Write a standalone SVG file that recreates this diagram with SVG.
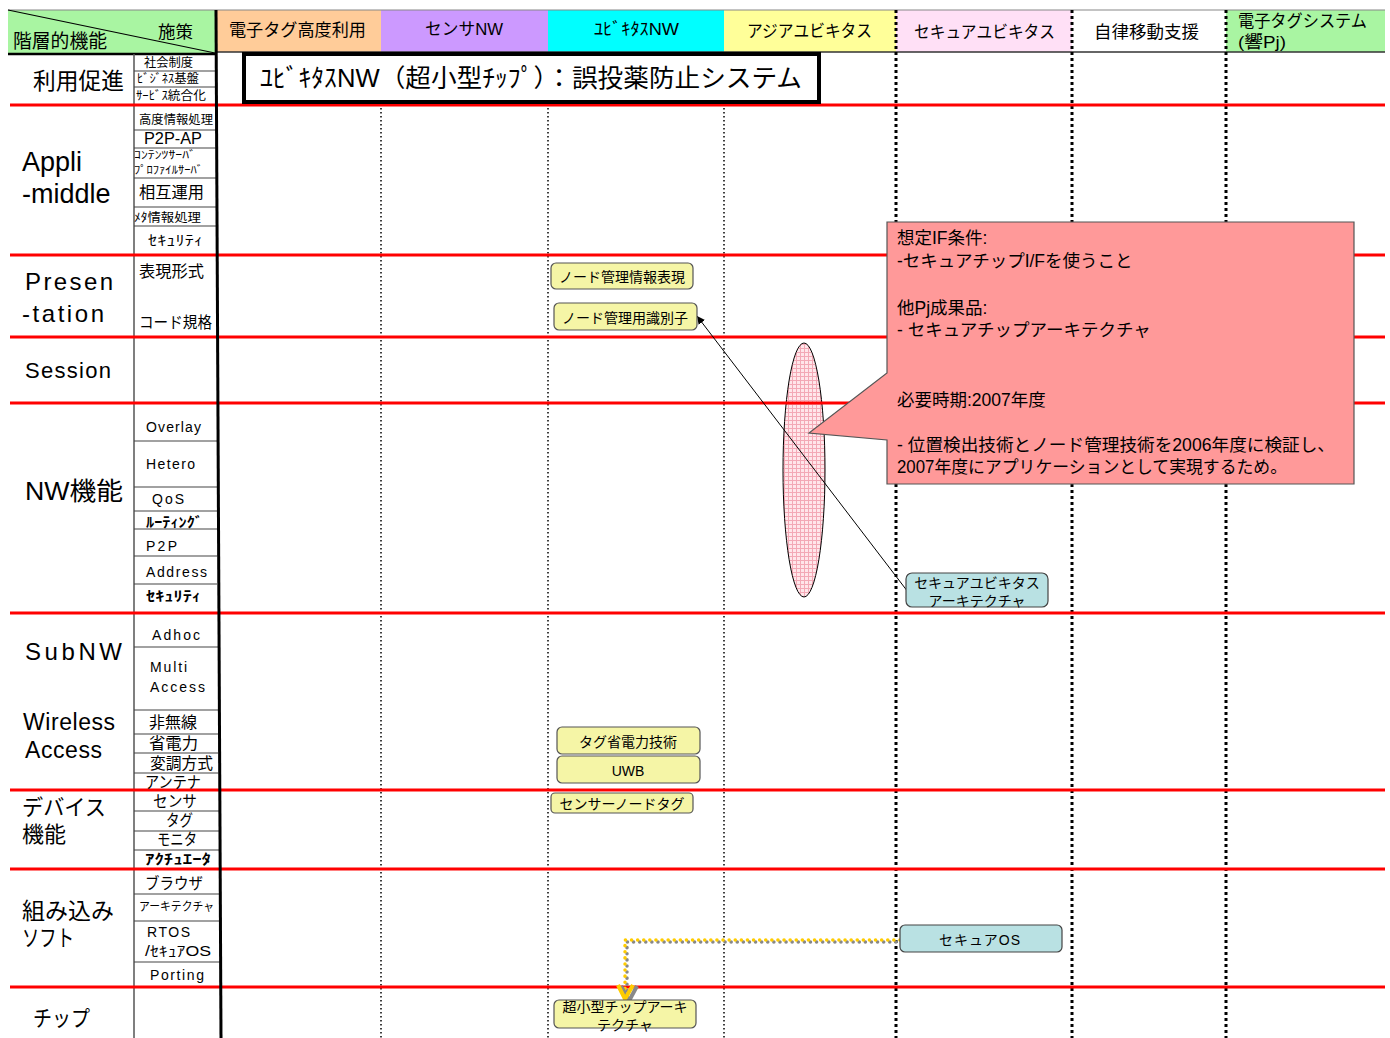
<svg xmlns="http://www.w3.org/2000/svg" width="1390" height="1038" viewBox="0 0 1390 1038">
<style>
text{font-family:"Liberation Sans","Noto Sans CJK JP",sans-serif;fill:#000}
.hd{font-size:17px}
.rl{font-size:24px}
.sl{font-size:14px}
.ss{font-size:12px}
.red{stroke:#FF0000;stroke-width:3}
.sub{stroke:#444;stroke-width:1.2}
.dt{stroke:#000;stroke-width:1.5;stroke-dasharray:1.5 2.5}
.dT{stroke:#000;stroke-width:3;stroke-dasharray:3 3}
.yn{fill:#F5F5A6;stroke:#555;stroke-width:1.2}
.bn{fill:#B9E1E3;stroke:#444;stroke-width:1.2}
.nt{font-size:14px;text-anchor:middle}
.ct{font-size:17.5px}
</style>
<defs>
<pattern id="grid" width="4" height="4" patternUnits="userSpaceOnUse">
<rect width="4" height="4" fill="#FFE6EA"/>
<path d="M0 0.5H4M0.5 0V4" stroke="#F3A9B6" stroke-width="1"/>
</pattern>
<marker id="ah" viewBox="0 0 10 10" refX="10" refY="5" markerWidth="8" markerHeight="8" orient="auto-start-reverse" markerUnits="userSpaceOnUse">
<path d="M0 0L10 5L0 10z" fill="#000"/>
</marker>
</defs>

<g id="header">
<rect x="8" y="10" width="207" height="43" fill="#A9F5A2"/>
<rect x="215" y="10" width="166" height="42" fill="#FFCC99"/>
<rect x="381" y="10" width="167" height="42" fill="#CC99FF"/>
<rect x="548" y="10" width="176" height="42" fill="#00FFFF"/>
<rect x="724" y="10" width="172" height="42" fill="#FFFF99"/>
<rect x="896" y="10" width="176" height="42" fill="#FFE0F6"/>
<rect x="1072" y="10" width="154" height="42" fill="#FFFFFF"/>
<rect x="1226" y="10" width="159" height="42" fill="#A9F5A2"/>
<line x1="8" y1="10" x2="1385" y2="10" stroke="#888" stroke-width="1.2"/>
<line x1="215" y1="52" x2="1385" y2="52" stroke="#333" stroke-width="1.5"/>
<line x1="8" y1="54" x2="216" y2="54" stroke="#000" stroke-width="2.5"/>
<line x1="8" y1="10" x2="215" y2="53" stroke="#000" stroke-width="1.2"/>
<text x="13" y="48" font-size="19" textLength="94" lengthAdjust="spacingAndGlyphs">階層的機能</text>
<text x="158" y="38" font-size="17" textLength="35" lengthAdjust="spacingAndGlyphs">施策</text>
<text x="229" y="36" class="hd" textLength="137" lengthAdjust="spacingAndGlyphs">電子タグ高度利用</text>
<text x="425" y="35" class="hd" textLength="78" lengthAdjust="spacingAndGlyphs">センサNW</text>
<text x="594" y="35" class="hd" textLength="85" lengthAdjust="spacingAndGlyphs">ﾕﾋﾞｷﾀｽNW</text>
<text x="747" y="37" class="hd" textLength="125" lengthAdjust="spacingAndGlyphs">アジアユビキタス</text>
<text x="914" y="38" class="hd" textLength="141" lengthAdjust="spacingAndGlyphs">セキュアユビキタス</text>
<text x="1094" y="38" class="hd" textLength="105" lengthAdjust="spacingAndGlyphs">自律移動支援</text>
<text x="1238" y="27" class="hd" textLength="129" lengthAdjust="spacingAndGlyphs">電子タグシステム</text>
<text x="1238" y="48" class="hd" textLength="48" lengthAdjust="spacingAndGlyphs">(響Pj)</text>
</g>

<g id="grid-lines">
<line x1="134" y1="54" x2="134" y2="1038" stroke="#555" stroke-width="1.5"/>
<line class="dt" x1="381" y1="52" x2="381" y2="1038"/>
<line class="dt" x1="548" y1="52" x2="548" y2="1038"/>
<line class="dt" x1="724" y1="52" x2="724" y2="1038"/>
<line class="dT" x1="896" y1="10" x2="896" y2="1038"/>
<line class="dT" x1="1072" y1="10" x2="1072" y2="1038"/>
<line class="dT" x1="1226" y1="10" x2="1226" y2="1038"/>
<g class="sub">
<line x1="134" y1="71" x2="216" y2="71"/>
<line x1="134" y1="87" x2="216" y2="87"/>
<line x1="134" y1="130" x2="216" y2="130"/>
<line x1="134" y1="148" x2="216" y2="148"/>
<line x1="134" y1="178" x2="216" y2="178"/>
<line x1="134" y1="207" x2="216" y2="207"/>
<line x1="134" y1="226" x2="216" y2="226"/>
<line x1="134" y1="441" x2="217" y2="441"/>
<line x1="134" y1="487" x2="217" y2="487"/>
<line x1="134" y1="511" x2="217" y2="511"/>
<line x1="134" y1="529" x2="217" y2="529"/>
<line x1="134" y1="556" x2="217" y2="556"/>
<line x1="134" y1="584" x2="217" y2="584"/>
<line x1="134" y1="647" x2="218" y2="647"/>
<line x1="134" y1="710" x2="218" y2="710"/>
<line x1="134" y1="734" x2="218" y2="734"/>
<line x1="134" y1="753" x2="218" y2="753"/>
<line x1="134" y1="773" x2="218" y2="773"/>
<line x1="134" y1="811" x2="219" y2="811"/>
<line x1="134" y1="831" x2="219" y2="831"/>
<line x1="134" y1="850" x2="219" y2="850"/>
<line x1="134" y1="894" x2="220" y2="894"/>
<line x1="134" y1="921" x2="220" y2="921"/>
<line x1="134" y1="962" x2="220" y2="962"/>
</g>
</g>

<g id="ellipse-group">
<ellipse cx="804" cy="470" rx="21" ry="127" fill="url(#grid)" stroke="#000" stroke-width="1"/>
</g>

<g id="red-lines">
<line class="red" x1="10" y1="105" x2="1385" y2="105"/>
<line class="red" x1="10" y1="255" x2="1385" y2="255"/>
<line class="red" x1="10" y1="337" x2="1385" y2="337"/>
<line class="red" x1="10" y1="403" x2="1385" y2="403"/>
<line class="red" x1="10" y1="613" x2="1385" y2="613"/>
<line class="red" x1="10" y1="790" x2="1385" y2="790"/>
<line class="red" x1="10" y1="869" x2="1385" y2="869"/>
<line class="red" x1="10" y1="987" x2="1385" y2="987"/>
<line x1="216" y1="10" x2="221" y2="1038" stroke="#000" stroke-width="3"/>
</g>

<g id="row-labels">
<text x="33" y="89" font-size="23" textLength="91" lengthAdjust="spacingAndGlyphs">利用促進</text>
<text x="22" y="171" font-size="27">Appli</text>
<text x="22" y="203" font-size="27">-middle</text>
<text x="25" y="290" class="rl" textLength="88" lengthAdjust="spacing">Presen</text>
<text x="22" y="322" class="rl" textLength="82" lengthAdjust="spacing">-tation</text>
<text x="25" y="378" font-size="22" textLength="86" lengthAdjust="spacing">Session</text>
<text x="25" y="500" font-size="25" textLength="98" lengthAdjust="spacingAndGlyphs">NW機能</text>
<text x="25" y="660" class="rl" textLength="97" lengthAdjust="spacing">SubNW</text>
<text x="23" y="730" font-size="23" textLength="92" lengthAdjust="spacing">Wireless</text>
<text x="25" y="758" font-size="23" textLength="77" lengthAdjust="spacing">Access</text>
<text x="22" y="815" font-size="22" textLength="84" lengthAdjust="spacingAndGlyphs">デバイス</text>
<text x="22" y="842" font-size="22">機能</text>
<text x="22" y="919" font-size="23" textLength="92" lengthAdjust="spacingAndGlyphs">組み込み</text>
<text x="22" y="946" font-size="23" textLength="52" lengthAdjust="spacingAndGlyphs">ソフト</text>
<text x="33" y="1026" font-size="22" textLength="57" lengthAdjust="spacingAndGlyphs">チップ</text>
</g>

<g id="sub-labels">
<text x="144" y="67" class="ss" textLength="49" lengthAdjust="spacingAndGlyphs">社会制度</text>
<text x="137" y="83" class="ss" textLength="62" lengthAdjust="spacingAndGlyphs">ﾋﾞｼﾞﾈｽ基盤</text>
<text x="136" y="100" class="ss" textLength="70" lengthAdjust="spacingAndGlyphs">ｻｰﾋﾞｽ統合化</text>
<text x="139" y="124" class="ss" textLength="74" lengthAdjust="spacingAndGlyphs">高度情報処理</text>
<text x="144" y="144" font-size="16" textLength="58" lengthAdjust="spacingAndGlyphs">P2P-AP</text>
<text x="134" y="159" font-size="11" textLength="62" lengthAdjust="spacingAndGlyphs">ｺﾝﾃﾝﾂｻｰﾊﾞ</text>
<text x="134" y="174" font-size="11" textLength="69" lengthAdjust="spacingAndGlyphs">ﾌﾟﾛﾌｧｲﾙｻｰﾊﾞ</text>
<text x="139" y="198" font-size="16" textLength="65" lengthAdjust="spacingAndGlyphs">相互運用</text>
<text x="134" y="222" class="ss" textLength="67" lengthAdjust="spacingAndGlyphs">ﾒﾀ情報処理</text>
<text x="148" y="245" class="sl" textLength="55" lengthAdjust="spacingAndGlyphs">ｾｷｭﾘﾃｨ</text>
<text x="139" y="277" font-size="16" textLength="65" lengthAdjust="spacingAndGlyphs">表現形式</text>
<text x="139" y="328" font-size="16" textLength="73" lengthAdjust="spacingAndGlyphs">コード規格</text>
<text x="146" y="432" class="sl" textLength="55" lengthAdjust="spacing">Overlay</text>
<text x="146" y="469" class="sl" textLength="49" lengthAdjust="spacing">Hetero</text>
<text x="152" y="504" class="sl" textLength="32" lengthAdjust="spacing">QoS</text>
<text x="146" y="527" class="sl" font-weight="bold" textLength="57" lengthAdjust="spacingAndGlyphs">ﾙｰﾃｨﾝｸﾞ</text>
<text x="146" y="551" class="sl" textLength="31" lengthAdjust="spacing">P2P</text>
<text x="146" y="577" class="sl" textLength="61" lengthAdjust="spacing">Address</text>
<text x="146" y="601" class="sl" font-weight="bold" textLength="55" lengthAdjust="spacingAndGlyphs">ｾｷｭﾘﾃｨ</text>
<text x="152" y="640" class="sl" textLength="48" lengthAdjust="spacing">Adhoc</text>
<text x="150" y="672" class="sl" textLength="37" lengthAdjust="spacing">Multi</text>
<text x="150" y="692" class="sl" textLength="55" lengthAdjust="spacing">Access</text>
<text x="149" y="728" font-size="16" textLength="48" lengthAdjust="spacingAndGlyphs">非無線</text>
<text x="149" y="749" font-size="16" textLength="49" lengthAdjust="spacingAndGlyphs">省電力</text>
<text x="150" y="769" font-size="16" textLength="63" lengthAdjust="spacingAndGlyphs">変調方式</text>
<text x="145" y="788" font-size="16" textLength="56" lengthAdjust="spacingAndGlyphs">アンテナ</text>
<text x="153" y="807" font-size="16" textLength="44" lengthAdjust="spacingAndGlyphs">センサ</text>
<text x="166" y="826" font-size="16" textLength="27" lengthAdjust="spacingAndGlyphs">タグ</text>
<text x="157" y="845" font-size="16" textLength="40" lengthAdjust="spacingAndGlyphs">モニタ</text>
<text x="145" y="864" class="sl" font-weight="bold" textLength="66" lengthAdjust="spacingAndGlyphs">ｱｸﾁｭｴｰﾀ</text>
<text x="145" y="889" font-size="16" textLength="58" lengthAdjust="spacingAndGlyphs">ブラウザ</text>
<text x="139" y="911" class="ss" textLength="75" lengthAdjust="spacingAndGlyphs">アーキテクチャ</text>
<text x="147" y="937" class="sl" textLength="43" lengthAdjust="spacing">RTOS</text>
<text x="145" y="956" class="sl" textLength="66" lengthAdjust="spacingAndGlyphs">/ｾｷｭｱOS</text>
<text x="150" y="980" class="sl" textLength="54" lengthAdjust="spacing">Porting</text>
</g>

<g id="title">
<rect x="244" y="54" width="575" height="48" fill="#FFFFFF" stroke="#000" stroke-width="4"/>
<text x="260" y="87" font-size="25" textLength="542" lengthAdjust="spacingAndGlyphs">ﾕﾋﾞｷﾀｽNW（超小型ﾁｯﾌﾟ）：誤投薬防止システム</text>
</g>

<g id="connectors">
<line x1="908" y1="592" x2="697" y2="316" stroke="#000" stroke-width="1" marker-end="url(#ah)"/>
<path d="M902 942H627V999" fill="none" stroke="#888" stroke-width="3.5" stroke-linecap="round" stroke-dasharray="0.1 6"/>
<path d="M900 940H625V997" fill="none" stroke="#FFCC00" stroke-width="3.5" stroke-linecap="round" stroke-dasharray="0.1 6"/>
<polyline points="621,986 629,1001 637,986" fill="none" stroke="#888" stroke-width="4"/>
<polyline points="618,985 625,999 633,985" fill="none" stroke="#FFCC00" stroke-width="4"/>
</g>

<g id="node-n1">
<rect class="yn" x="551" y="263" width="142" height="26" rx="5"/>
<text class="nt" x="622" y="282">ノード管理情報表現</text>
</g>
<g id="node-n2">
<rect class="yn" x="554" y="303" width="143" height="27" rx="5"/>
<text class="nt" x="625" y="323">ノード管理用識別子</text>
</g>
<g id="node-n3">
<rect class="yn" x="557" y="727" width="143" height="27" rx="5"/>
<text class="nt" x="628" y="747">タグ省電力技術</text>
</g>
<g id="node-n4">
<rect class="yn" x="557" y="756" width="143" height="27" rx="5"/>
<text class="nt" x="628" y="776">UWB</text>
</g>
<g id="node-n5">
<rect class="yn" x="551" y="793" width="142" height="20" rx="4"/>
<text class="nt" x="622" y="809">センサーノードタグ</text>
</g>
<g id="node-n6">
<rect class="yn" x="554" y="1000" width="142" height="28" rx="5"/>
<text class="nt" x="625" y="1012">超小型チップアーキ</text>
<text class="nt" x="625" y="1030">テクチャ</text>
</g>
<g id="node-b1">
<rect class="bn" x="906" y="573" width="142" height="34" rx="6"/>
<text class="nt" x="977" y="588">セキュアユビキタス</text>
<text class="nt" x="977" y="606">アーキテクチャ</text>
</g>
<g id="node-b2">
<rect class="bn" x="900" y="925" width="162" height="27" rx="5"/>
<text class="nt" x="980" y="945" letter-spacing="1">セキュアOS</text>
</g>

<g id="callout">
<polygon points="887,222 1354,222 1354,484 887,484 887,440 809,433 887,373" fill="#FF9999" stroke="#555" stroke-width="1.2"/>
<text class="ct" x="897" y="244">想定IF条件:</text>
<text class="ct" x="897" y="267">-セキュアチップI/Fを使うこと</text>
<text class="ct" x="897" y="314">他Pj成果品:</text>
<text class="ct" x="897" y="336">- セキュアチップアーキテクチャ</text>
<text class="ct" x="897" y="406">必要時期:2007年度</text>
<text class="ct" x="897" y="451" textLength="438" lengthAdjust="spacingAndGlyphs">- 位置検出技術とノード管理技術を2006年度に検証し、</text>
<text class="ct" x="897" y="473" textLength="390" lengthAdjust="spacingAndGlyphs">2007年度にアプリケーションとして実現するため。</text>
</g>
</svg>
